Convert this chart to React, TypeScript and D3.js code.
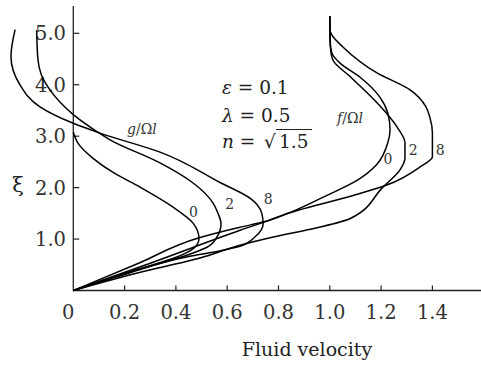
import React from "react";
import * as d3 from "d3";

const xTicks = [0.2, 0.4, 0.6, 0.8, 1.0, 1.2, 1.4];
const xTickLabels = ["0.2", "0.4", "0.6", "0.8", "1.0", "1.2", "1.4"];
const yTicks = [1, 2, 3, 4, 5];
const yTickLabels = ["1.0", "2.0", "3.0", "4.0", "5.0"];

// [velocity, xi] pairs, from origin upward
const g0: [number, number][] = [[0,0],[0.2,0.33],[0.444,0.74],[0.474,0.84],[0.49,1.01],[0.467,1.31],[0.389,1.62],[0.26,2.01],[0.16,2.28],[0.077,2.57],[0.02,2.85],[0,3.08]];
const g2: [number, number][] = [[0,0],[0.22,0.36],[0.467,0.73],[0.521,0.84],[0.56,1.04],[0.576,1.3],[0.564,1.5],[0.545,1.7],[0.467,2.09],[0.338,2.48],[0.143,2.93],[0.092,3.09],[0,3.42],[-0.091,3.9],[-0.125,4.2],[-0.138,4.5],[-0.143,5.06]];
const g8: [number, number][] = [[0,0],[0.2,0.31],[0.45,0.66],[0.56,0.76],[0.65,0.86],[0.71,1.05],[0.74,1.3],[0.735,1.5],[0.69,1.79],[0.572,2.1],[0.338,2.69],[0.104,3.06],[0,3.25],[-0.13,3.57],[-0.208,4.0],[-0.243,4.55],[-0.227,5.07]];
const f0: [number, number][] = [[0,0],[0.3,0.53],[0.65,1.17],[0.818,1.46],[0.985,1.84],[1.106,2.14],[1.183,2.45],[1.226,2.87],[1.235,3.12],[1.226,3.45],[1.195,3.76],[1.117,4.15],[1.04,4.42],[1.008,4.62],[1.0,4.9],[1.0,5.33]];
const f2: [number, number][] = [[0,0],[0.25,0.34],[0.494,0.63],[0.65,0.88],[0.78,1.04],[0.95,1.22],[1.08,1.4],[1.207,2.01],[1.273,2.34],[1.293,2.57],[1.293,2.87],[1.262,3.18],[1.184,3.65],[1.079,4.16],[1.012,4.48],[1.003,4.7],[1.0,5.33]];
const f8: [number, number][] = [[0,0],[0.25,0.52],[0.494,1.03],[0.65,1.23],[0.74,1.33],[0.818,1.47],[1.1,1.86],[1.222,2.05],[1.351,2.4],[1.4,2.6],[1.4,3.06],[1.39,3.37],[1.375,3.57],[1.313,3.9],[1.184,4.23],[1.05,4.74],[1.008,4.97],[1.0,5.07],[1.0,5.33]];

const curves = [g0, g2, g8, f0, f2, f8];
const curveLabels: { text: string; v: number; xi: number }[] = [
  { text: "0", v: 0.468, xi: 1.42 },
  { text: "2", v: 0.61, xi: 1.58 },
  { text: "8", v: 0.76, xi: 1.68 },
  { text: "0", v: 1.227, xi: 2.45 },
  { text: "2", v: 1.325, xi: 2.63 },
  { text: "8", v: 1.43, xi: 2.63 },
];

const W = 481, H = 367;
const FONT = "'DejaVu Serif', serif";

export default function App() {
  const x = d3.scaleLinear().domain([0, 1]).range([73.3, 329.8]);
  const y = d3.scaleLinear().domain([0, 1]).range([290.5, 239.06]);
  const line = d3
    .line<[number, number]>()
    .x((d) => x(d[0]))
    .y((d) => y(d[1]))
    .curve(d3.curveMonotoneY);

  const x0 = x(0), y0 = y(0);
  return (
    <svg width={W} height={H} style={{ position: "absolute", left: 0, top: 0, background: "#fff" }} fontFamily={FONT}>
      <rect width={W} height={H} fill="#fff" />
      {/* axes */}
      <line x1={x0} y1={y0} x2={W} y2={y0} stroke="#222" strokeWidth={1.3} />
      <line x1={x0} y1={y0} x2={x0} y2={6} stroke="#222" strokeWidth={1.3} />
      {xTicks.map((t, i) => (
        <g key={"xt" + i}>
          <line x1={x(t)} x2={x(t)} y1={y0} y2={y0 - 5} stroke="#222" strokeWidth={1.2} />
          <text x={x(t)} y={319} fontSize={19.5} textAnchor="middle" fill="#333">{xTickLabels[i]}</text>
        </g>
      ))}
      <text x={x0 - 5} y={319} fontSize={19.5} textAnchor="middle" fill="#333">0</text>
      {yTicks.map((t, i) => (
        <g key={"yt" + i}>
          <line x1={x0} x2={x0 + 6} y1={y(t)} y2={y(t)} stroke="#222" strokeWidth={1.2} />
          <text x={66} y={y(t) + 7} fontSize={19.5} textAnchor="end" fill="#333">{yTickLabels[i]}</text>
        </g>
      ))}
      <text x={18} y={192} fontSize={21} textAnchor="middle" fill="#222">ξ</text>
      <text x={307} y={356} fontSize={19} textAnchor="middle" fill="#222">Fluid velocity</text>

      {/* curves */}
      {curves.map((c, i) => (
        <path key={"c" + i} d={line([...c].reverse()) || ""} fill="none" stroke="#000" strokeWidth={1.5} />
      ))}
      {curveLabels.map((l, i) => (
        <text key={"cl" + i} x={x(l.v)} y={y(l.xi)} fontSize={14} textAnchor="middle" fill="#333">{l.text}</text>
      ))}

      {/* annotations */}
      <text x={127} y={134} fontSize={14} fill="#333">
        <tspan fontStyle="italic">g</tspan>/Ω<tspan fontStyle="italic">l</tspan>
      </text>
      <text x={337} y={123} fontSize={14} fill="#333">
        <tspan fontStyle="italic">f</tspan>/Ω<tspan fontStyle="italic">l</tspan>
      </text>
      <text x={222} y={94} fontSize={18.5} fill="#222">
        <tspan fontStyle="italic">ε</tspan> = 0.1
      </text>
      <text x={222} y={122} fontSize={18.5} fill="#222">
        <tspan fontStyle="italic">λ</tspan> = 0.5
      </text>
      <text x={222} y={148} fontSize={18.5} fill="#222">
        <tspan fontStyle="italic">n</tspan> =
      </text>
      <text x={264} y={148} fontSize={18.5} fill="#222">√</text>
      <text x={279} y={148} fontSize={18.5} fill="#222">1.5</text>
      <line x1={276} x2={312} y1={129.5} y2={129.5} stroke="#222" strokeWidth={1} />
    </svg>
  );
}
